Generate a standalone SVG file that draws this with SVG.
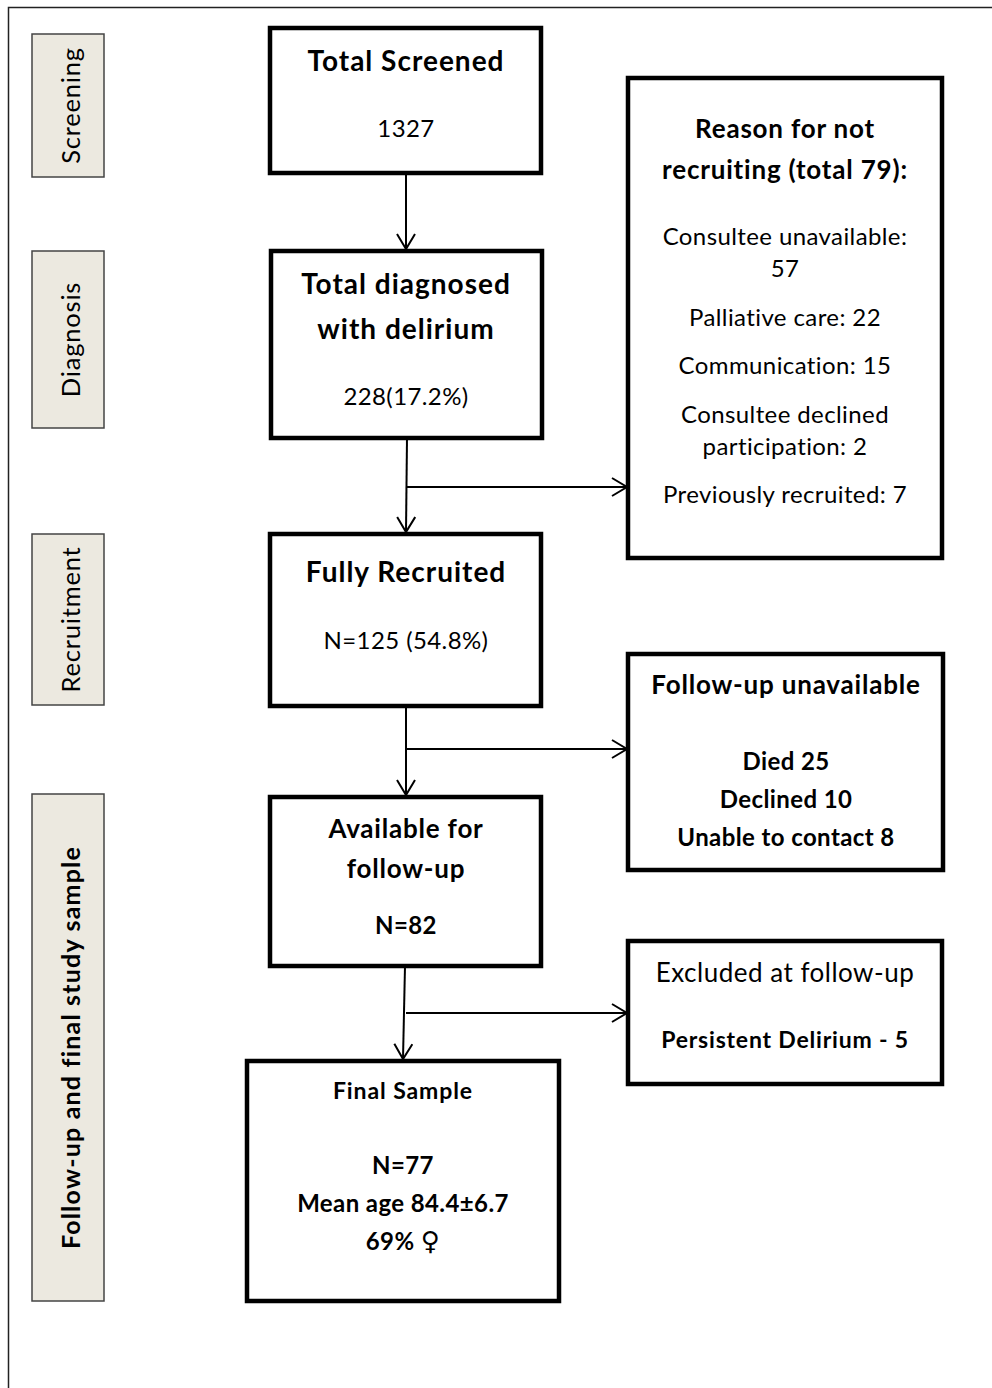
<svg xmlns="http://www.w3.org/2000/svg" width="992" height="1388" viewBox="0 0 992 1388">
<defs>
<style>
.frame{fill:none;stroke:#222;stroke-width:1.5}
.side{fill:#ECE9E0;stroke:#444;stroke-width:1.5}
.box{fill:#fff;stroke:#000;stroke-width:4.5}
.conn{fill:none;stroke:#000;stroke-width:2}
text{font-family:Lato,"Open Sans","Liberation Sans",sans-serif;fill:#000;text-anchor:middle}
.b{font-weight:bold}
.h1{font-size:28px;font-weight:bold;letter-spacing:1px}
.h2{font-size:26px;letter-spacing:0.8px}
.t{font-size:24px;letter-spacing:0.4px}
.sl{font-size:25.5px;letter-spacing:0.8px}
.slb{font-size:25px;font-weight:bold;letter-spacing:1.2px}
.sym{font-family:"DejaVu Sans",sans-serif;font-weight:normal}
</style>
<marker id="ah" viewBox="0 0 20 20" refX="16" refY="10" markerWidth="20" markerHeight="20" markerUnits="userSpaceOnUse" orient="auto">
<path d="M1,1 L16,10 L1,19" fill="none" stroke="#000" stroke-width="2"/>
</marker>
</defs>
<rect width="992" height="1388" fill="#fff"/>
<path class="frame" d="M8.5,1388 V7.5 H992"/>

<g id="label-screening">
<rect class="side" x="32" y="34" width="72" height="143"/>
<text class="sl" transform="translate(80,105.5) rotate(-90)">Screening</text>
</g>
<g id="label-diagnosis">
<rect class="side" x="32" y="251" width="72" height="177"/>
<text class="sl" transform="translate(80,339.5) rotate(-90)">Diagnosis</text>
</g>
<g id="label-recruitment">
<rect class="side" x="32" y="534" width="72" height="171"/>
<text class="sl" transform="translate(80,619.5) rotate(-90)">Recruitment</text>
</g>
<g id="label-followup">
<rect class="side" x="32" y="794" width="72" height="507"/>
<text class="slb" transform="translate(80,1047.5) rotate(-90)">Follow-up and final study sample</text>
</g>

<g id="connectors">
<line class="conn" x1="406" y1="173" x2="406" y2="249" marker-end="url(#ah)"/>
<line class="conn" x1="407" y1="438" x2="406" y2="532" marker-end="url(#ah)"/>
<line class="conn" x1="407" y1="487" x2="627" y2="487" marker-end="url(#ah)"/>
<line class="conn" x1="406" y1="706" x2="406" y2="795" marker-end="url(#ah)"/>
<line class="conn" x1="406" y1="749" x2="627" y2="749" marker-end="url(#ah)"/>
<line class="conn" x1="405" y1="966" x2="403" y2="1059" marker-end="url(#ah)"/>
<line class="conn" x1="406" y1="1013" x2="627" y2="1013" marker-end="url(#ah)"/>
</g>

<g id="node-screened">
<rect class="box" x="270" y="28" width="271" height="145"/>
<text class="h1" x="406" y="71">Total Screened</text>
<text class="t" x="406" y="137">1327</text>
</g>
<g id="node-diagnosed">
<rect class="box" x="271" y="251" width="271" height="187"/>
<text class="h1" x="406" y="294">Total diagnosed</text>
<text class="h1" x="406" y="339">with delirium</text>
<text class="t" x="406" y="405">228(17.2%)</text>
</g>
<g id="node-reasons">
<rect class="box" x="628" y="78" width="314" height="480"/>
<text class="h2 b" x="785" y="138">Reason for not</text>
<text class="h2 b" x="785" y="179">recruiting (total 79):</text>
<text class="t" x="785" y="245">Consultee unavailable:</text>
<text class="t" x="785" y="277">57</text>
<text class="t" x="785" y="326">Palliative care: 22</text>
<text class="t" x="785" y="374">Communication: 15</text>
<text class="t" x="785" y="423">Consultee declined</text>
<text class="t" x="785" y="455">participation: 2</text>
<text class="t" x="785" y="503">Previously recruited: 7</text>
</g>
<g id="node-recruited">
<rect class="box" x="270" y="534" width="271" height="172"/>
<text class="h1" x="406" y="582">Fully Recruited</text>
<text class="t" x="406" y="649">N=125 (54.8%)</text>
</g>
<g id="node-unavailable">
<rect class="box" x="628" y="654" width="315" height="216"/>
<text class="h2 b" x="786" y="694">Follow-up unavailable</text>
<text class="t b" x="786" y="770">Died 25</text>
<text class="t b" x="786" y="808">Declined 10</text>
<text class="t b" x="786" y="846">Unable to contact 8</text>
</g>
<g id="node-available">
<rect class="box" x="270" y="797" width="271" height="169"/>
<text class="h2 b" x="406" y="838">Available for</text>
<text class="h2 b" x="406" y="878">follow-up</text>
<text class="t b" x="406" y="934">N=82</text>
</g>
<g id="node-excluded">
<rect class="box" x="628" y="941" width="314" height="143"/>
<text class="h2" x="785" y="982" style="letter-spacing:0.5px">Excluded at follow-up</text>
<text class="b" x="785" y="1048" font-size="23" letter-spacing="0.8">Persistent Delirium - 5</text>
</g>
<g id="node-final">
<rect class="box" x="247" y="1061" width="312" height="240"/>
<text class="b" x="403" y="1099" font-size="23" letter-spacing="0.9">Final Sample</text>
<text class="t b" x="403" y="1174">N=77</text>
<text class="t b" x="403" y="1212">Mean age 84.4±6.7</text>
<text class="t b" x="403" y="1250">69% <tspan class="sym" font-size="26">♀</tspan></text>
</g>
</svg>
